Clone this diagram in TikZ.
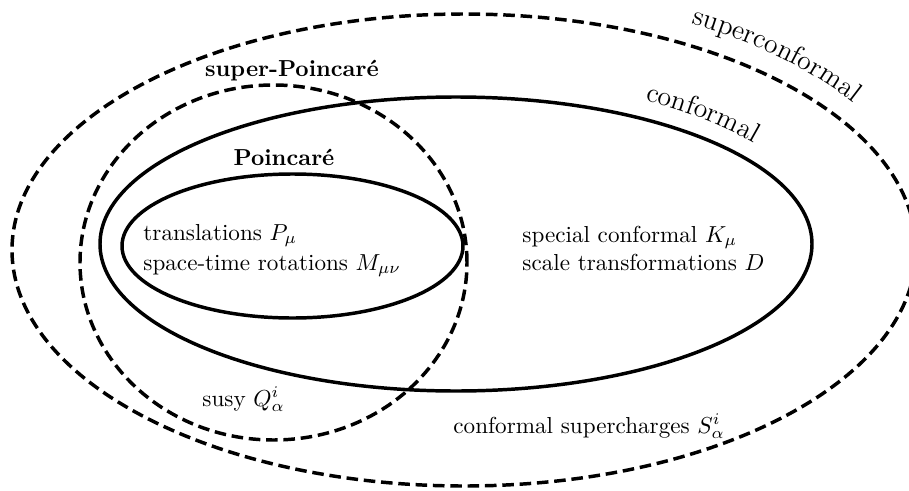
\documentclass[tikz,border=0pt]{standalone}
\usetikzlibrary{decorations.text}
\begin{document}
\begin{tikzpicture}[x=0.0152cm, y=0.0152cm,
  solidline/.style={line width=1.5pt},
  dashline/.style={line width=1.5pt, dash pattern=on 5pt off 2.5pt},
  lbl/.style={inner sep=0pt, anchor=base west},
  ttl/.style={inner sep=0pt, anchor=base, font=\bfseries}]
\useasboundingbox (0,0) rectangle (909,490);
% sets
\draw[dashline] (464,240) ellipse [x radius=452, y radius=236];
\draw[dashline] (273.5,227.5) ellipse [x radius=193.5, y radius=177.5];
\draw[solidline] (456,246) ellipse [x radius=356, y radius=147];
\draw[solidline] (292.5,244) ellipse [x radius=170.5, y radius=72];
% curved titles
\path[decorate, decoration={text along path, text={|\large|superconformal}, text align=left}]
  ([shift={(464,240)}]61.3:474 and 258) arc[start angle=61.3, end angle=0, x radius=474, y radius=258];
\path[decorate, decoration={text along path, text={|\large|conformal}, text align=left}]
  ([shift={(456,246)}]59.7:375 and 166) arc[start angle=59.7, end angle=0, x radius=375, y radius=166];
% titles
\node[ttl] (sp) at (292,414) {super-Poincar\'e};
\node[ttl] (p) at (284,325) {Poincar\'e};
% contents
\node[lbl] (t1) at (143,250) {translations $P_\mu$};
\node[lbl] (t2) at (143,220) {space-time rotations $M_{\mu\nu}$};
\node[lbl] (k1) at (522,248) {special conformal $K_\mu$};
\node[lbl] (k2) at (522,220) {scale transformations $D$};
\node[lbl] (q) at (202,84) {susy $Q^i_\alpha$};
\node[lbl] (s) at (453,57) {conformal supercharges $S^i_\alpha$};
\end{tikzpicture}
\end{document}
